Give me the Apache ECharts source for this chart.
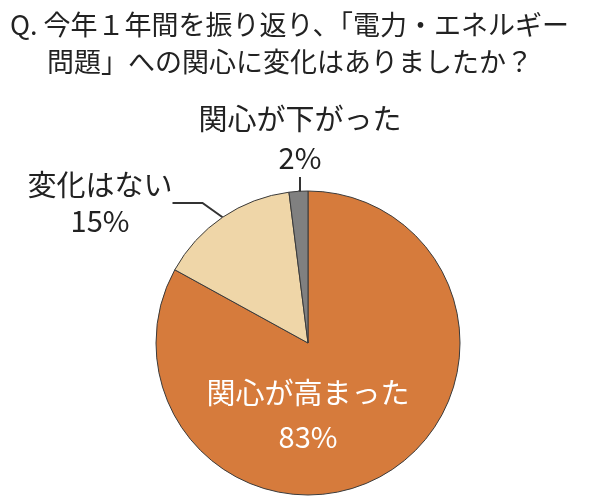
<!DOCTYPE html>
<html><head><meta charset="utf-8">
<script src="https://cdn.jsdelivr.net/npm/echarts@6/dist/echarts.min.js"></script>
<style>html,body{margin:0;padding:0;background:#fff}#c{width:600px;height:501px}</style>
</head><body><div id="c"></div>
<script>
const categories = ['関心が高まった', '変化はない', '関心が下がった'];
const values = [83, 15, 2];
const colors = ['#D67B3C', '#EFD6A8', '#808080'];
const titleLines = ['Q. 今年１年間を振り返り、「電力・エネルギー', '問題」への関心に変化はありましたか？'];

const FONT = '"Noto Sans CJK JP", sans-serif';
const chart = echarts.init(document.getElementById('c'));
const labelPos = [
  {x: 308, y: 415},
  {x: 100, y: 203},
  {x: 300, y: 138}
];
chart.setOption({
  animation: false,
  title: [
    {text: titleLines[0], left: 5, top: 6, textStyle: {fontFamily: FONT, fontSize: 27, fontWeight: 'normal', color: '#222'}},
    {text: titleLines[1], left: 42, top: 43, textStyle: {fontFamily: FONT, fontSize: 27, fontWeight: 'normal', color: '#222'}}
  ],
  series: [{
    type: 'pie',
    center: [308, 343],
    radius: 152,
    startAngle: 90,
    clockwise: true,
    itemStyle: {borderColor: '#3a3a3a', borderWidth: 1},
    label: {
      show: true, position: 'outside', overflow: 'none',
      formatter: p => p.name + '\n' + p.value + '%',
      fontFamily: FONT, fontSize: 29, color: '#222', lineHeight: 39, align: 'center'
    },
    labelLine: {show: true, lineStyle: {color: '#333', width: 2}},
    labelLayout: function (params) {
      const p = labelPos[params.dataIndex];
      return {x: p.x, y: p.y, align: 'center', verticalAlign: 'middle'};
    },
    data: categories.map((c, i) => {
      const d = {name: c, value: values[i], itemStyle: {color: colors[i]}};
      if (i === 0) {
        d.label = {position: 'inside', color: '#fff', lineHeight: 44, fontSize: 29};
        d.labelLine = {show: false};
      }
      if (i === 1) d.label = {lineHeight: 36};
      return d;
    })
  }]
});
</script></body></html>
